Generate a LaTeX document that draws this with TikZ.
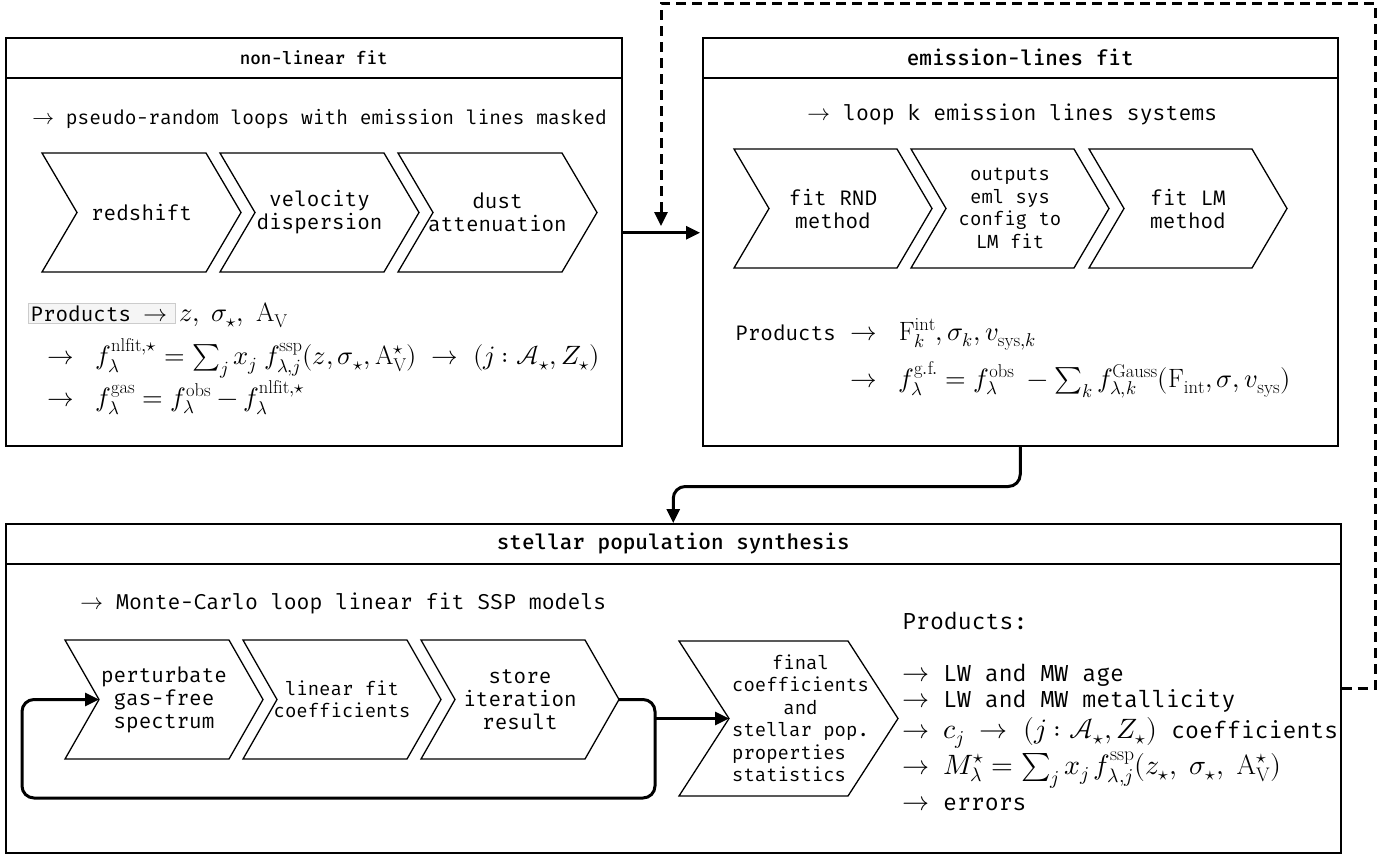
\documentclass[tikz,border=0pt]{standalone}
\usepackage{fontspec}
\usepackage{unicode-math}
\setmathfont{Latin Modern Math}
\setmonofont{Fira Mono}
\usetikzlibrary{arrows.meta}
\newcommand\chevshape[8]{%
  \draw[chev] (#2,#3) -- (#2+#4-#6,#3) -- (#2+#4,#3+#5/2) -- (#2+#4-#6,#3+#5) -- (#2,#3+#5) -- (#2+#6,#3+#5/2) -- cycle;
  \node[#7] (#1) at (#2+#4/2,#3+#5/2) {#8};
  \coordinate (#1-tip) at (#2+#4,#3+#5/2);
  \coordinate (#1-notch) at (#2+#6,#3+#5/2);
}
\newcommand\mth[2][26.5]{{\fontsize{#1}{#1}\selectfont$#2$}}
\begin{document}
\begin{tikzpicture}[x=1pt,y=-1pt,
  box/.style={draw,line width=1.5pt,inner sep=0pt,anchor=north west},
  ttl/.style={box,font=\fontsize{21}{21}\selectfont\ttfamily\bfseries},
  chev/.style={draw,line width=1.3pt,line join=miter},
  lbl/.style={align=center,inner sep=0pt,font=\fontsize{21}{23}\selectfont\ttfamily},
  slbl/.style={align=center,inner sep=0pt,font=\fontsize{19}{22.5}\selectfont\ttfamily},
  txt/.style={anchor=base west,inner sep=0pt,font=\fontsize{21}{21}\selectfont\ttfamily},
  itxt/.style={txt,font=\fontsize{21.5}{21.5}\selectfont\ttfamily},
  ptxt/.style={txt,font=\fontsize{23.2}{23.2}\selectfont\ttfamily},
  conn/.style={line width=3pt,-{Triangle[length=14pt,width=13pt]},rounded corners=12pt},
  dconn/.style={line width=3pt,dash pattern=on 10pt off 6pt,-{Triangle[length=14pt,width=13pt]}},
]
\fill[white] (0,0) rectangle (1384,854);
\useasboundingbox (0,0) rectangle (1384,854);

% ---------- non-linear fit ----------
\node[box,minimum width=616pt,minimum height=408pt] (nl) at (5,37) {};
\node[ttl,font=\fontsize{17.6}{17.6}\selectfont\ttfamily\bfseries,minimum width=616pt,minimum height=40pt] (nlt) at (5,37) {non-linear fit};
\node[txt,font=\fontsize{19.6}{19.6}\selectfont\ttfamily] (nli) at (32,124) {\mth[22]{\rightarrow} pseudo-random loops with emission lines masked};
\chevshape{a1}{42}{153}{199}{119}{35}{lbl}{redshift}
\chevshape{a2}{220}{153}{199}{119}{35}{lbl}{velocity\\dispersion}
\chevshape{a3}{398}{153}{199}{119}{35}{lbl}{dust\\attenuation}
\node[txt,fill=black!4,draw=black!20,line width=0.8pt,inner sep=2pt] (nlp) at (28,321) {Products \mth[24]{\rightarrow}\;};
\node[txt] (nlpm) at ([xshift=3pt]nlp.base east) {\mth{z,\;\sigma_\star,\;\mathrm{A_V}}};
\node[txt] (nlf1) at (47,364) {\mth{\rightarrow\;\; f_\lambda^{\mathrm{nlfit},\star} = \sum_j x_j\; f^{\mathrm{ssp}}_{\lambda,j}(z,\sigma_\star,\mathrm{A}^\star_\mathrm{V})\;\rightarrow\;(j:\mathcal{A}_\star,Z_\star)}};
\node[txt] (nlf2) at (47,406) {\mth{\rightarrow\;\; f_\lambda^{\mathrm{gas}} = f_\lambda^{\mathrm{obs}} - f_\lambda^{\mathrm{nlfit},\star}}};

% ---------- emission-lines fit ----------
\node[box,minimum width=635pt,minimum height=408pt] (el) at (702,37) {};
\node[ttl,minimum width=635pt,minimum height=40pt] (elt) at (702,37) {emission-lines fit};
\node[itxt] (eli) at (807,120) {\mth[23]{\rightarrow} loop k emission lines systems};
\chevshape{b1}{734}{149}{198}{119}{35}{lbl}{fit RND\\method}
\chevshape{b2}{911}{149}{198}{119}{35}{slbl}{outputs\\eml sys\\config to\\LM fit}
\chevshape{b3}{1089}{149}{198}{119}{35}{lbl}{fit LM\\method}
\node[txt] (elp) at (735,340) {Products};
\node[txt] (elpm) at (850,340) {\mth{\rightarrow\;\;\mathrm{F}^{\mathrm{int}}_k,\sigma_k,v_{\mathrm{sys},k}}};
\node[txt] (elf) at (850,387) {\mth{\rightarrow\;\; f^{\mathrm{g.f.}}_\lambda = f^{\mathrm{obs}}_\lambda\; - \sum_k f^{\mathrm{Gauss}}_{\lambda,k}(\mathrm{F_{int}},\sigma,v_{\mathrm{sys}})}};

% ---------- stellar population synthesis ----------
\node[box,minimum width=1335pt,minimum height=329pt] (sps) at (5,523) {};
\node[ttl,minimum width=1335pt,minimum height=40pt] (spst) at (5,523) {stellar population synthesis};
\node[itxt] (spi) at (80,609) {\mth[23]{\rightarrow} Monte-Carlo loop linear fit SSP models};
\chevshape{c1}{65}{640}{198}{119}{34}{lbl}{perturbate\\gas-free\\spectrum}
\chevshape{c2}{243}{640}{198}{119}{34}{slbl}{linear fit\\coefficients}
\chevshape{c3}{421}{640}{198}{119}{34}{lbl}{store\\iteration\\result}
\chevshape{c4}{679}{641}{219}{155}{50}{slbl,align=left,xshift=12pt}{\hspace*{2.1em}final\\coefficients\\\hspace*{2.7em}and\\stellar pop.\\properties\\statistics}
\node[ptxt] (spp) at (902,629) {Products:};
\node[ptxt] (pr1) at (902,681) {\mth[27]{\rightarrow} LW and MW age};
\node[ptxt] (pr2) at (902,707) {\mth[27]{\rightarrow} LW and MW metallicity};
\node[ptxt] (pr3) at (902,738) {\mth[27]{\rightarrow} \mth[28]{c_j\;\rightarrow\;(j:\mathcal{A}_\star,Z_\star)} coefficients};
\node[ptxt] (pr4) at (902,774) {\mth[27]{\rightarrow} \mth[28]{M^\star_\lambda = \sum_j x_j\, f^{\mathrm{ssp}}_{\lambda,j}(z_\star,\;\sigma_\star,\;\mathrm{A}^\star_\mathrm{V})}};
\node[ptxt] (pr5) at (902,810) {\mth[27]{\rightarrow} errors};

% ---------- connectors ----------
\draw[conn,shorten >=2pt] ([yshift=9pt]nl.east) -- ([yshift=9pt]el.west);
\draw[conn] (el.south) -- ++(0,40) -| (sps.north);
\coordinate (dA) at (1375,3);
\coordinate (dB) at (661,226);
\draw[dconn] (sps.east) -| (dA) -| (dB);
\coordinate (lpR) at (655,798);
\coordinate (lpL) at (22,798);
\draw[conn] (c3-tip) -| (lpR) -- (lpL) |- (c1-notch);
\draw[conn] (lpR |- c4-notch) -- (c4-notch);
\end{tikzpicture}
\end{document}
